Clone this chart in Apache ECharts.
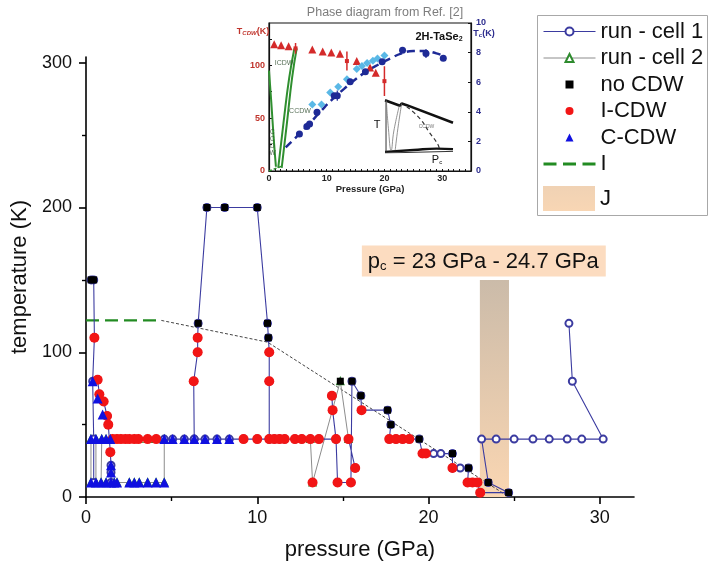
<!DOCTYPE html>
<html><head><meta charset="utf-8">
<script src="https://cdn.jsdelivr.net/npm/echarts@6/dist/echarts.min.js"></script>
<style>html,body{margin:0;padding:0;background:#fff}#c{width:725px;height:568px}</style>
</head><body><div id="c"></div>
<script>
// ---------- main chart data ----------
const xTicks = [0, 10, 20, 30];
const xMinorTicks = [5, 15, 25];
const yTicks = [0, 100, 200, 300];
const yMinorTicks = [50, 150, 250];

const GAP = ['-', '-'];
const cell1 = [
  [0.3,150],[0.45,150],[0.49,110],[0.39,80],[0.45,40],[0.45,10], GAP,
  [0.68,81],[0.78,71],[1.03,66],[1.23,56],[1.3,50],[1.42,31],[1.46,22],[1.46,17],[1.46,10], GAP,
  [4.57,40],[5.06,40],[5.74,40],[6.32,40],[6.95,40],[7.65,40],[8.37,40],[9.2,40],[10.0,40],[10.7,40],[11.0,40],[11.3,40],[11.6,40],[12.2,40],[12.6,40],[13.1,40],[13.6,40],[14.6,40],[14.69,10],[15.47,10],[15.53,80],[16.05,70],[16.09,60],[17.61,60],[17.8,50],[17.71,40],[18.1,40],[18.49,40],[18.88,40],[19.46,40],[19.65,30],[19.85,30],[20.3,30],[20.72,30],[21.4,30],[21.4,20],[21.85,20],[22.34,20],[22.28,10],[22.57,10],[22.86,10],[23.02,3],[24.68,3],[23.49,10],[23.1,40],[23.95,40],[25.0,40],[26.1,40],[27.05,40],[28.1,40],[28.95,40],[30.2,40],[28.4,80],[28.2,120], GAP,
  [6.32,40],[6.29,80],[6.52,100],[6.52,110],[6.55,120],[7.06,200],[8.1,200],[10.0,200],[10.6,120],[10.65,110],[10.7,100],[10.7,80],[10.7,40], GAP,
  [14.36,70],[14.4,60],[14.6,40], GAP, [15.33,40],[15.72,20]
];
const cell2 = [
  [0.29,40],[0.29,10],[0.58,10],[0.58,40],[0.92,40],[0.88,10],[1.17,10],[1.46,10],[1.65,10],[1.81,10],[2.53,10],[2.82,10],[3.11,10],[3.6,10],[4.09,10],[4.57,10],[4.57,40],[4.1,40],[3.6,40],[3.06,40],[2.82,40],[2.53,40],[2.3,40],[2.04,40],[1.81,40],[1.56,40],[1.42,40],[1.17,40], GAP,
  [13.1,40],[13.23,10],[14.85,80],[15.33,40]
];
const noCDW = [[0.3,150],[0.45,150],[6.55,120],[7.06,200],[8.1,200],[10.0,200],[10.6,120],[10.65,110],[14.85,80],[15.53,80],[16.05,70],[17.61,60],[17.8,50],[19.46,40],[21.4,30],[22.34,20],[23.49,10],[24.68,3]];
const iCDW = [[0.49,110],[0.68,81],[0.78,71],[1.03,66],[1.23,56],[1.3,50],[1.42,31],[1.56,40],[1.81,40],[2.04,40],[2.3,40],[2.53,40],[2.82,40],[3.06,40],[3.6,40],[4.1,40],[6.52,110],[6.52,100],[6.29,80],[10.7,100],[10.7,80],[9.2,40],[10.0,40],[10.7,40],[11.0,40],[11.3,40],[11.6,40],[12.2,40],[12.6,40],[13.1,40],[13.6,40],[14.36,70],[14.4,60],[14.6,40],[15.33,40],[15.72,20],[13.23,10],[14.69,10],[15.47,10],[16.09,60],[17.71,40],[18.1,40],[18.49,40],[18.88,40],[19.65,30],[19.85,30],[21.4,20],[22.28,10],[22.57,10],[22.86,10],[23.02,3]];
const cCDW = [[0.29,40],[0.58,40],[0.92,40],[1.17,40],[1.42,40],[4.57,40],[5.06,40],[5.74,40],[6.32,40],[6.95,40],[7.65,40],[8.37,40],[0.29,10],[0.58,10],[0.88,10],[1.17,10],[1.46,10],[1.65,10],[1.81,10],[2.53,10],[2.82,10],[3.11,10],[3.6,10],[4.09,10],[4.57,10],[0.39,80],[0.68,68],[0.97,57],[1.46,22],[1.46,17]];
const lineI = [[0,122],[4.4,122]];
const trendLine = [[4.4,122],[10.6,107],[24.7,0]];
const bandJ = [23.0, 24.7];
const bandJTop = 150;
const pcLabelPos = [23.23, 163];
const pcLabelText = ' = 23 GPa - 24.7 GPa';

// ---------- inset (phase diagram from Ref. [2]) ----------
const insetXTicks = [0, 10, 20, 30];
const insetXMinor = [0,1,2,3,4,5,6,7,8,9,10,11,12,13,14,15,16,17,18,19,20,21,22,23,24,25,26,27,28,29,30,31,32,33,34,35];
const insetLeftTicks = [0, 50, 100];
const insetRightTicks = [0, 2, 4, 6, 8, 10];
const insetTcdw = [[0.9,120],[2.1,119],[3.4,118],[7.5,115],[9.3,113],[10.8,112],[12.3,111],[15.2,104],[17.5,98],[18.5,93]];
const insetTcdwErr = [[4.6,116,5],[13.5,104,9],[20.0,85,14]];
const insetTc = [[5.27,2.5],[6.56,3.0],[7.03,3.18],[8.32,3.97],[11.3,5.09],[11.83,5.09],[14.06,6.03],[16.7,6.7],[19.6,7.38],[23.14,8.16],[27.2,7.94],[30.2,7.62]];
const insetTcErr = [[11.83,5.09,0.35],[27.2,7.94,0.3]];
const insetTcCyan = [[7.5,4.5],[9.1,4.5],[10.6,5.3],[12.0,5.7],[13.5,6.2],[15.2,6.9],[16.1,7.1],[17.0,7.3],[18.0,7.45],[18.8,7.6],[20.0,7.8]];
const insetTcFit = [[2.9,1.6],[5,2.4],[7,3.2],[9,4.05],[11,4.85],[13,5.55],[15,6.2],[17,6.75],[19,7.2],[21,7.6],[23,7.95],[25,8.1],[27,8.1],[29,7.95],[30.5,7.75]];
const insetGreen1 = [[0,95],[0.4,65],[0.8,32],[1.2,4]];
const insetGreen2 = [[1.6,3],[2.5,45],[3.5,88],[4.4,116]];
const insetGreen3 = [[2.2,3],[3.1,45],[4.0,88],[4.8,116]];
const insetGreenDash = [[0,0],[2.4,5]];
const insetLabels = [{name:'ICDW', value:[0.9,102]}, {name:'CCDW', value:[3.4,57]}];
const insetVLabel = [{name:'C\nC\nD\nW', value:[0.6,27]}];
// schematic (normalised 0..1 coordinates)
const schUpper = [[0,0.96],[0.22,0.86],[0.245,0.9],[0.32,0.87],[1,0.55]];
const schLower = [[0,0.02],[0.42,0.055],[0.76,0.08],[1,0.07]];
const schBase = [[0,0],[1,0.03]];
const schLeft = [[0.015,0.96],[0.015,0.02]];
const schDome = [[0.02,0.95],[0.05,0.45],[0.09,0.05],[0.13,0.4],[0.21,0.86]];
const schICDW = [[0.245,0.9],[0.19,0.45],[0.15,0.05]];
const schDash = [[0.32,0.84],[0.51,0.63],[0.66,0.36],[0.78,0.15],[0.8,0.05]];
const schLabels = [{name:'CCDW', value:[0.61,0.48]}];

const FONT = '"Liberation Sans", Arial, Helvetica, sans-serif';
const errSegs = arr => { const out = []; arr.forEach(([x,y,e]) => { out.push([x,y-e],[x,y+e],['-','-']); }); return out; };
const none = 'rgba(0,0,0,0)';
const bandGrad = {type:'linear', x:0, y:0, x2:0, y2:1, colorStops:[{offset:0, color:'#cbbba9'},{offset:1, color:'#fad6b2'}]};
const legendGrad = {type:'linear', x:0, y:0, x2:0, y2:1, colorStops:[{offset:0, color:'#f0d2b4'},{offset:1, color:'#f8d6b4'}]};

const chart = echarts.init(document.getElementById('c'), null, {renderer:'canvas'});
const blackAxis = {lineStyle:{color:'#000', width:1.6}};
const option = {
  animation: false,
  textStyle: {fontFamily: FONT},
  grid: [
    {left: 86, right: 91, top: 57, bottom: 71},
    {left: 269, top: 23, width: 202, height: 148, show: true, borderColor: '#111', borderWidth: 1.2, backgroundColor: '#fff'},
    {left: 385, top: 98, width: 68, height: 55}
  ],
  xAxis: [
    {gridIndex:0, type:'value', min:0, max:32, position:'bottom', axisLine:{onZero:false, ...blackAxis},
     axisTick:{customValues:xTicks, length:7, lineStyle:{color:'#000', width:1.6}},
     axisLabel:{customValues:xTicks, fontSize:18, color:'#111', margin:12},
     splitLine:{show:false}, name:'pressure (GPa)', nameLocation:'middle', nameGap:42,
     nameTextStyle:{fontSize:22, color:'#111'}},
    {gridIndex:0, type:'value', min:0, max:32, position:'bottom', axisLine:{show:false, onZero:false},
     axisTick:{customValues:xMinorTicks, length:4, lineStyle:{color:'#000', width:1.4}},
     axisLabel:{show:false}, splitLine:{show:false}},
    {gridIndex:1, type:'value', min:0, max:35, position:'bottom', axisLine:{onZero:false, lineStyle:{color:'#111', width:1.2}},
     axisTick:{customValues:insetXMinor, inside:true, length:2, lineStyle:{color:'#111', width:1}},
     axisLabel:{customValues:insetXTicks, fontSize:9, fontWeight:'bold', color:'#222', margin:3},
     splitLine:{show:false}, name:'Pressure (GPa)', nameLocation:'middle', nameGap:13,
     nameTextStyle:{fontSize:9.5, fontWeight:'bold', color:'#222'}},
    {gridIndex:2, type:'value', min:0, max:1, show:false}
  ],
  yAxis: [
    {gridIndex:0, type:'value', min:0, max:304, position:'left', axisLine:{onZero:false, ...blackAxis},
     axisTick:{customValues:yTicks, length:7, lineStyle:{color:'#000', width:1.6}},
     axisLabel:{customValues:yTicks, fontSize:18, color:'#111', margin:14},
     splitLine:{show:false}, name:'temperature (K)', nameLocation:'middle', nameGap:47,
     nameTextStyle:{fontSize:22, color:'#111'}},
    {gridIndex:0, type:'value', min:0, max:304, position:'left', axisLine:{show:false, onZero:false},
     axisTick:{customValues:yMinorTicks, length:4, lineStyle:{color:'#000', width:1.4}},
     axisLabel:{show:false}, splitLine:{show:false}},
    {gridIndex:1, type:'value', min:0, max:140, position:'left', axisLine:{onZero:false, lineStyle:{color:'#111', width:1.2}},
     axisTick:{customValues:[0,25,50,75,100,125], inside:true, length:3, lineStyle:{color:'#111'}},
     axisLabel:{customValues:insetLeftTicks, fontSize:9, fontWeight:'bold', color:'#c0342c', margin:4},
     splitLine:{show:false}},
    {gridIndex:1, type:'value', min:0, max:10, position:'right', axisLine:{onZero:false, lineStyle:{color:'#111', width:1.2}},
     axisTick:{customValues:insetRightTicks, inside:true, length:3, lineStyle:{color:'#111'}},
     axisLabel:{customValues:insetRightTicks, fontSize:9, fontWeight:'bold', color:'#2c2c8e', margin:5},
     splitLine:{show:false}},
    {gridIndex:2, type:'value', min:0, max:1, show:false}
  ],
  legend: [
    {left: 538, top: 15.5, orient: 'vertical', itemWidth: 52, itemHeight: 10, itemGap: 4.5,
     textStyle: {fontSize: 22, color: '#111'}, lineStyle: {width: 1}, selectedMode: false,
     data: [
       {name:'run - cell 1'}, {name:'run - cell 2'}, {name:'no CDW'}, {name:'I-CDW'}, {name:'C-CDW'},
       {name:'I', icon:'path://M0,0h13v3h-13z M19.5,0h13v3h-13z M39,0h13v3h-13z', itemStyle:{color:'#228b22'}}
     ]},
    {left: 538, top: 181, orient: 'vertical', itemWidth: 52, itemHeight: 25, symbolKeepAspect: false, selectedMode: false,
     textStyle: {fontSize: 22, color: '#111'},
     data: [{name:'J', icon:'rect', itemStyle:{color: legendGrad}}]}
  ],
  graphic: [
    {type:'rect', left:535, top:13, z:100, shape:{width:170, height:200}, style:{fill:'none', stroke:'#a8a8a8', lineWidth:1}},
    {type:'text', x:385, y:13, z:100, style:{text:'Phase diagram from Ref. [2]', fill:'#7d7d7d', font:'12.5px ' + FONT, align:'center', verticalAlign:'middle'}},
    {type:'text', x:439, y:37, z:100, style:{text:'{a|2H-TaSe}{b|2}', align:'center', verticalAlign:'middle',
      rich:{a:{fontSize:11, fontWeight:'bold', fill:'#111', fontFamily:FONT}, b:{fontSize:7, fontWeight:'bold', fill:'#111', fontFamily:FONT, verticalAlign:'bottom'}}}},
    {type:'text', x:253, y:32, z:100, style:{text:'{a|T}{b|CDW}{a|(K)}', align:'center', verticalAlign:'middle',
      rich:{a:{fontSize:9, fontWeight:'bold', fill:'#c0342c', fontFamily:FONT}, b:{fontSize:6, fontWeight:'bold', fontStyle:'italic', fill:'#c0342c', fontFamily:FONT, verticalAlign:'bottom'}}}},
    {type:'text', x:484, y:34, z:100, style:{text:'{a|T}{b|c}{a|(K)}', align:'center', verticalAlign:'middle',
      rich:{a:{fontSize:9, fontWeight:'bold', fill:'#2c2c8e', fontFamily:FONT}, b:{fontSize:6, fontWeight:'bold', fill:'#2c2c8e', fontFamily:FONT, verticalAlign:'bottom'}}}},
    {type:'text', x:377, y:125, z:100, style:{text:'T', fill:'#111', font:'11px ' + FONT, align:'center', verticalAlign:'middle'}},
    {type:'text', x:437, y:160, z:100, style:{text:'{a|P}{b|c}', align:'center', verticalAlign:'middle',
      rich:{a:{fontSize:11, fill:'#111', fontFamily:FONT}, b:{fontSize:6, fill:'#111', fontFamily:FONT, verticalAlign:'bottom'}}}}
  ],
  series: [
    // band J + annotation
    {name:'J', type:'line', xAxisIndex:0, yAxisIndex:0, data:[], z:1, itemStyle:{color:'#f3cfae'},
     markArea:{silent:true, itemStyle:{color: bandGrad}, data:[[{xAxis:bandJ[0], yAxis:0},{xAxis:bandJ[1], yAxis:bandJTop}]]},
     markPoint:{silent:true, symbol:'rect', symbolSize:1, itemStyle:{color:none},
       data:[{coord: pcLabelPos}],
       label:{show:true, position:'inside', formatter:'{p|p}{c|c}{t|' + pcLabelText + '}', backgroundColor:'#fcdcc0',
         padding:[5,7,4,6], color:'#111',
         rich:{p:{fontSize:22, color:'#111'}, c:{fontSize:13, color:'#111', verticalAlign:'bottom', padding:[0,0,0,0]}, t:{fontSize:22, color:'#111'}}}}},
    {name:'I', type:'line', xAxisIndex:0, yAxisIndex:0, data:lineI, symbol:'none', z:2,
     itemStyle:{color:'#228b22'}, lineStyle:{color:'#228b22', width:2.2, type:[13,6]}},
    {name:'trend', type:'line', xAxisIndex:0, yAxisIndex:0, data:trendLine, symbol:'none', z:2,
     lineStyle:{color:'#444', width:1, type:[3,2]}},
    {name:'run - cell 2', type:'line', xAxisIndex:0, yAxisIndex:0, data:cell2, z:3,
     symbol:'emptyTriangle', symbolSize:6, itemStyle:{color:'#2e8b2e', borderWidth:1},
     lineStyle:{color:'#8c8c8c', width:1}},
    {name:'run - cell 1', type:'line', xAxisIndex:0, yAxisIndex:0, data:cell1, z:4,
     symbol:'emptyCircle', symbolSize:7, itemStyle:{color:'#3b3ba0', borderWidth:1.2},
     lineStyle:{color:'#3b3ba0', width:1.1}},
    {name:'I-CDW', type:'line', xAxisIndex:0, yAxisIndex:0, data:iCDW, z:5,
     symbol:'circle', symbolSize:10, itemStyle:{color:'#f21515'}, lineStyle:{width:0, color:none}},
    {name:'C-CDW', type:'line', xAxisIndex:0, yAxisIndex:0, data:cCDW, z:6,
     symbol:'triangle', symbolSize:10, itemStyle:{color:'#1010e0'}, lineStyle:{width:0, color:none}},
    {name:'no CDW', type:'line', xAxisIndex:0, yAxisIndex:0, data:noCDW, z:7,
     symbol:'rect', symbolSize:7, itemStyle:{color:'#000'}, lineStyle:{width:0, color:none}},

    // inset
    {name:'g1', type:'line', xAxisIndex:2, yAxisIndex:2, data:insetGreen1, symbol:'none', smooth:true, z:20, lineStyle:{color:'#2f8f2f', width:2}},
    {name:'g2', type:'line', xAxisIndex:2, yAxisIndex:2, data:insetGreen2, symbol:'none', smooth:true, z:20, lineStyle:{color:'#2f8f2f', width:2}},
    {name:'g3', type:'line', xAxisIndex:2, yAxisIndex:2, data:insetGreen3, symbol:'none', smooth:true, z:20, lineStyle:{color:'#2f8f2f', width:2}},
    {name:'gd', type:'line', xAxisIndex:2, yAxisIndex:2, data:insetGreenDash, symbol:'none', z:20, lineStyle:{color:'#2f8f2f', width:1.5, type:[3,2]}},
    {name:'tcdw', type:'scatter', xAxisIndex:2, yAxisIndex:2, data:insetTcdw, symbol:'triangle', symbolSize:8, z:21, itemStyle:{color:'#d42a2a', opacity:1}},
    {name:'tcdwErr', type:'line', xAxisIndex:2, yAxisIndex:2, data:errSegs(insetTcdwErr), symbol:'none', z:21, lineStyle:{color:'#d42a2a', width:1.5}},
    {name:'tcdwErrPt', type:'scatter', xAxisIndex:2, yAxisIndex:2, data:insetTcdwErr.map(d => [d[0], d[1]]), symbol:'rect', symbolSize:4, z:21, itemStyle:{color:'#d42a2a', opacity:1}},
    {name:'fit', type:'line', xAxisIndex:2, yAxisIndex:3, data:insetTcFit, symbol:'none', smooth:true, z:21, lineStyle:{color:'#1e2a96', width:2.5, type:[8,5]}},
    {name:'tcErr', type:'line', xAxisIndex:2, yAxisIndex:3, data:errSegs(insetTcErr), symbol:'none', z:21, lineStyle:{color:'#1e2a96', width:1.2}},
    {name:'tcCyan', type:'scatter', xAxisIndex:2, yAxisIndex:3, data:insetTcCyan, symbol:'diamond', symbolSize:8, z:22, itemStyle:{color:'#5ab8e6', opacity:1}},
    {name:'tc', type:'scatter', xAxisIndex:2, yAxisIndex:3, data:insetTc, symbol:'circle', symbolSize:7, z:22, itemStyle:{color:'#1e2a96', opacity:1}},
    {name:'insetLbl', type:'scatter', xAxisIndex:2, yAxisIndex:2, data:insetLabels, symbolSize:1, z:23, itemStyle:{color:none},
     label:{show:true, position:'right', distance:0, formatter:'{b}', fontSize:7, color:'#2a4a2a'}},
    {name:'insetVLbl', type:'scatter', xAxisIndex:2, yAxisIndex:2, data:insetVLabel, symbolSize:1, z:23, itemStyle:{color:none},
     label:{show:true, position:'inside', formatter:'{b}', fontSize:6.5, lineHeight:7, color:'#2a4a2a'}},
    // schematic
    {name:'s1', type:'line', xAxisIndex:3, yAxisIndex:4, data:schUpper, symbol:'none', z:24, lineStyle:{color:'#111', width:2.6}},
    {name:'s2', type:'line', xAxisIndex:3, yAxisIndex:4, data:schLower, symbol:'none', smooth:true, z:24, lineStyle:{color:'#111', width:2.4}},
    {name:'s3', type:'line', xAxisIndex:3, yAxisIndex:4, data:schBase, symbol:'none', z:24, lineStyle:{color:'#333', width:1}},
    {name:'s4', type:'line', xAxisIndex:3, yAxisIndex:4, data:schLeft, symbol:'none', z:24, lineStyle:{color:'#333', width:1}},
    {name:'s5', type:'line', xAxisIndex:3, yAxisIndex:4, data:schDome, symbol:'none', smooth:true, z:24, lineStyle:{color:'#777', width:0.8}},
    {name:'s6', type:'line', xAxisIndex:3, yAxisIndex:4, data:schICDW, symbol:'none', smooth:true, z:24, lineStyle:{color:'#777', width:0.8}},
    {name:'s7', type:'line', xAxisIndex:3, yAxisIndex:4, data:schDash, symbol:'none', smooth:true, z:24, lineStyle:{color:'#333', width:1.2, type:[4,3]}},
    {name:'s8', type:'scatter', xAxisIndex:3, yAxisIndex:4, data:schLabels, symbolSize:1, z:24, itemStyle:{color:none},
     label:{show:true, position:'inside', formatter:'{b}', fontSize:5, color:'#555'}}
  ]
};
chart.setOption(option);
</script></body></html>
